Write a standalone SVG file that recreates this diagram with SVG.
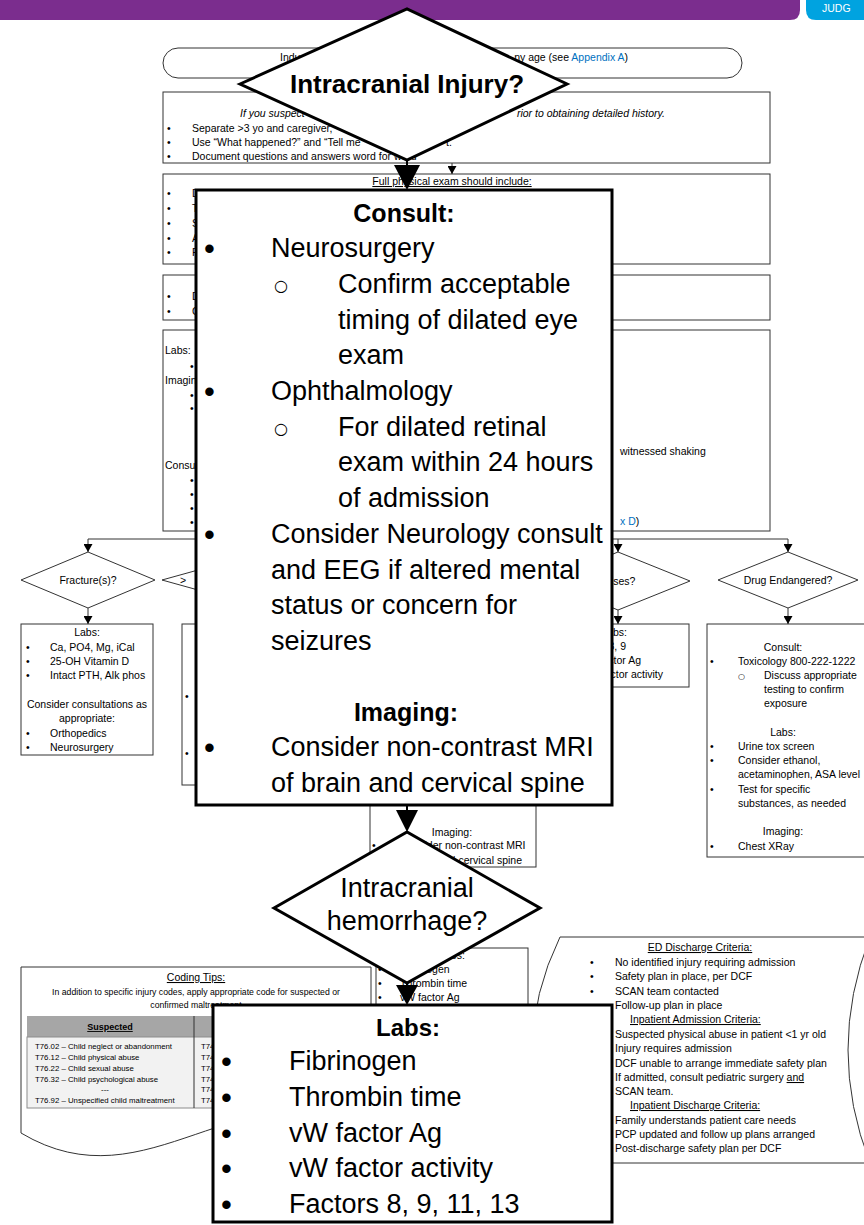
<svg xmlns="http://www.w3.org/2000/svg" width="864" height="1225" viewBox="0 0 864 1225">
<defs>
<marker id="ah" markerUnits="userSpaceOnUse" markerWidth="8" markerHeight="9" refX="8" refY="4.5" orient="auto"><path d="M0,0 L8,4.5 L0,9 z" fill="#000"/></marker>
</defs>
<style>
text{font-family:'Liberation Sans',Arial,sans-serif;fill:#000}
.s{font-size:10.5px}
.xs{font-size:8.7px}
.xxs{font-size:7.8px}
.c{text-anchor:middle}
.e{text-anchor:end}
.i{font-style:italic}
.u{text-decoration:underline}
.b{font-weight:bold}
.L{font-size:27px}
.B{font-size:31px}
.T{font-size:25px;font-weight:bold}
.sym{font-family:'DejaVu Sans',sans-serif}
.blue{fill:#0070c0}
.w{fill:#fff}
.box{fill:#fff;stroke:#333;stroke-width:1}
.ov{fill:#fff;stroke:#000;stroke-width:3}
.ln{fill:none;stroke:#333;stroke-width:1}
</style>
<rect width="864" height="1225" fill="#fff"/>

<g id="header">
<path d="M0,0 H800 V10 Q800,20 790,20 H0 Z" fill="#7b2d8e"/>
<path d="M806,0 H870 V20 H816 Q806,20 806,10 Z" fill="#00a3e0"/>
<text x="822" y="12" class="s w">JUDG</text>
</g>

<g id="start">
<rect x="163" y="48" width="579" height="30" rx="15" class="box"/>
<text x="280" y="61" class="s">Indu</text>
<text x="628" y="61" class="s e">ny age (see <tspan class="blue">Appendix A</tspan>)</text>
</g>

<g id="history">
<rect x="163" y="92" width="607" height="71" class="box"/>
<text x="240" y="117" class="s i">If you suspect</text>
<text x="665" y="117" class="s i e">rior to obtaining detailed history.</text>
<text x="167" y="132" class="s">•</text><text x="192" y="132" class="s">Separate &gt;3 yo and caregiver,</text>
<text x="167" y="146" class="s">•</text><text x="192" y="146" class="s">Use “What happened?” and “Tell me</text><text x="446" y="146" class="s">t.</text>
<text x="167" y="160" class="s">•</text><text x="192" y="160" class="s">Document questions and answers word for word</text>
</g>

<g id="exam">
<rect x="163" y="174" width="607" height="90" class="box"/>
<text x="452" y="185" class="s c u">Full physical exam should include:</text>
<text x="167" y="197" class="s">•</text><text x="192" y="197" class="s">D</text>
<text x="167" y="212" class="s">•</text><text x="192" y="212" class="s">T</text>
<text x="167" y="227" class="s">•</text><text x="192" y="227" class="s">S</text>
<text x="167" y="242" class="s">•</text><text x="192" y="242" class="s">A</text>
<text x="167" y="256" class="s">•</text><text x="192" y="256" class="s">F</text>
</g>

<g id="box4">
<rect x="163" y="275" width="607" height="45" class="box"/>
<text x="167" y="300" class="s">•</text><text x="192" y="300" class="s">D</text>
<text x="167" y="315" class="s">•</text><text x="192" y="315" class="s">C</text>
</g>

<g id="workup">
<rect x="163" y="330" width="607" height="201" class="box"/>
<text x="165" y="354" class="s">Labs:</text>
<text x="190" y="370" class="s">•</text>
<text x="165" y="384" class="s">Imaging:</text>
<text x="190" y="399" class="s">•</text>
<text x="190" y="412" class="s">•</text>
<text x="165" y="469" class="s">Consult:</text>
<text x="190" y="484" class="s">•</text>
<text x="190" y="498" class="s">•</text>
<text x="190" y="512" class="s">•</text>
<text x="190" y="526" class="s">•</text>
<text x="620" y="455" class="s">witnessed shaking</text>
<text x="620" y="525" class="s"><tspan class="blue">x D</tspan>)</text>
</g>

<g id="fracture-q">
<polygon points="21,580 88,552 155,580 88,608" class="box"/>
<text x="88" y="584" class="s c">Fracture(s)?</text>
</g>
<g id="fracture-box">
<rect x="21" y="624" width="132" height="131" class="box"/>
<text x="87" y="636" class="s c">Labs:</text>
<text x="26" y="651" class="s">•</text><text x="50" y="651" class="s">Ca, PO4, Mg, iCal</text>
<text x="26" y="665" class="s">•</text><text x="50" y="665" class="s">25-OH Vitamin D</text>
<text x="26" y="679" class="s">•</text><text x="50" y="679" class="s">Intact PTH, Alk phos</text>
<text x="87" y="708" class="s c">Consider consultations as</text>
<text x="87" y="722" class="s c">appropriate:</text>
<text x="26" y="737" class="s">•</text><text x="50" y="737" class="s">Orthopedics</text>
<text x="26" y="751" class="s">•</text><text x="50" y="751" class="s">Neurosurgery</text>
</g>

<g id="age-q">
<polygon points="162,580 263,552 364,580 263,608" class="box"/>
<text x="180" y="584" class="s">&gt;</text>
</g>
<g id="age-box">
<rect x="182" y="624" width="150" height="161" class="box"/>
<text x="185" y="700" class="s">•</text>
<text x="185" y="757" class="s">•</text>
</g>

<g id="bruise-q">
<polygon points="546,581 618,552 690,581 618,610" class="box"/>
<text x="615" y="585" class="s c">Bruises?</text>
</g>
<g id="bruise-box">
<rect x="540" y="624" width="149" height="63" class="box"/>
<text x="627" y="636" class="s e">Labs:</text>
<text x="626" y="650" class="s e">Factors 8, 9</text>
<text x="641" y="664" class="s e">vW factor Ag</text>
<text x="663" y="678" class="s e">vW factor activity</text>
</g>

<g id="drug-q">
<polygon points="718,580 788,552 858,580 788,608" class="box"/>
<text x="788" y="584" class="s c">Drug Endangered?</text>
</g>
<g id="drug-box">
<rect x="707" y="624" width="170" height="233" class="box"/>
<text x="783" y="651" class="s c">Consult:</text>
<text x="710" y="665" class="s">•</text><text x="738" y="665" class="s">Toxicology 800-222-1222</text>
<text x="738" y="679" class="sym" font-size="8">○</text><text x="764" y="679" class="s">Discuss appropriate</text>
<text x="764" y="693" class="s">testing to confirm</text>
<text x="764" y="707" class="s">exposure</text>
<text x="783" y="736" class="s c">Labs:</text>
<text x="710" y="750" class="s">•</text><text x="738" y="750" class="s">Urine tox screen</text>
<text x="710" y="764" class="s">•</text><text x="738" y="764" class="s">Consider ethanol,</text>
<text x="738" y="778" class="s">acetaminophen, ASA level</text>
<text x="710" y="793" class="s">•</text><text x="738" y="793" class="s">Test for specific</text>
<text x="738" y="807" class="s">substances, as needed</text>
<text x="783" y="835" class="s c">Imaging:</text>
<text x="710" y="850" class="s">•</text><text x="738" y="850" class="s">Chest XRay</text>
</g>

<g id="imaging-box">
<rect x="370" y="790" width="166" height="77" class="box"/>
<text x="452" y="836" class="s c">Imaging:</text>
<text x="372" y="849" class="s">•</text><text x="400" y="849" class="s">Consider non-contrast MRI</text>
<text x="400" y="864" class="s">of brain and cervical spine</text>
</g>

<g id="hem-labs-box">
<rect x="376" y="948" width="152" height="90" class="box"/>
<text x="452" y="959" class="s c">Labs:</text>
<text x="378" y="973" class="s">•</text><text x="400" y="973" class="s">Fibrinogen</text>
<text x="378" y="987" class="s">•</text><text x="400" y="987" class="s">Thrombin time</text>
<text x="378" y="1001" class="s">•</text><text x="400" y="1001" class="s">vW factor Ag</text>
</g>

<g id="coding-tips">
<path d="M21,967 H371 V1133 C240,1060 150,1210 21,1133 Z" fill="#fff" stroke="#333" stroke-width="1"/>
<text x="196" y="981" class="s c u">Coding Tips:</text>
<text x="196" y="995" class="xs c">In addition to specific injury codes, apply appropriate code for suspected or</text>
<text x="196" y="1008" class="xs c">confirmed maltreatment</text>
<rect x="27" y="1016" width="340" height="21" fill="#a6a6a6"/>
<rect x="27" y="1037" width="340" height="71" fill="#f2f2f2" stroke="#8c8c8c" stroke-width="1"/>
<line x1="194" y1="1016" x2="194" y2="1108" stroke="#333" stroke-width="1"/>
<text x="110" y="1030" class="c u b" font-size="9">Suspected</text>
<text x="35" y="1049" class="xxs">T76.02 – Child neglect or abandonment</text>
<text x="35" y="1060" class="xxs">T76.12 – Child physical abuse</text>
<text x="35" y="1071" class="xxs">T76.22 – Child sexual abuse</text>
<text x="35" y="1082" class="xxs">T76.32 – Child psychological abuse</text>
<text x="105" y="1092" class="xxs c">---</text>
<text x="35" y="1103" class="xxs">T76.92 – Unspecified child maltreatment</text>
<text x="201" y="1049" class="xxs">T74</text>
<text x="201" y="1060" class="xxs">T74</text>
<text x="201" y="1071" class="xxs">T74</text>
<text x="201" y="1082" class="xxs">T74</text>
<text x="201" y="1092" class="xxs">T74</text>
<text x="201" y="1103" class="xxs">T74</text>
</g>

<g id="criteria">
<path d="M560,937 L870,937 Q826,1050 870,1163 L560,1163 Q505,1050 560,937 Z" fill="#fff" stroke="#333" stroke-width="1"/>
<text x="700" y="951" class="s c u">ED Discharge Criteria:</text>
<text x="590" y="966" class="s">•</text><text x="615" y="966" class="s">No identified injury requiring admission</text>
<text x="590" y="980" class="s">•</text><text x="615" y="980" class="s">Safety plan in place, per DCF</text>
<text x="590" y="995" class="s">•</text><text x="615" y="995" class="s">SCAN team contacted</text>
<text x="590" y="1009" class="s">•</text><text x="615" y="1009" class="s">Follow-up plan in place</text>
<text x="630" y="1023" class="s u">Inpatient Admission Criteria:</text>
<text x="615" y="1038" class="s">Suspected physical abuse in patient &lt;1 yr old</text>
<text x="615" y="1052" class="s">Injury requires admission</text>
<text x="615" y="1067" class="s">DCF unable to arrange immediate safety plan</text>
<text x="615" y="1081" class="s">If admitted, consult pediatric surgery <tspan class="u">and</tspan></text>
<text x="615" y="1095" class="s">SCAN team.</text>
<text x="630" y="1109" class="s u">Inpatient Discharge Criteria:</text>
<text x="615" y="1124" class="s">Family understands patient care needs</text>
<text x="615" y="1138" class="s">PCP updated and follow up plans arranged</text>
<text x="615" y="1152" class="s">Post-discharge safety plan per DCF</text>
</g>

<g id="connectors">
<line x1="452" y1="163" x2="452" y2="174" class="ln" marker-end="url(#ah)"/>
<line x1="452" y1="264" x2="452" y2="275" class="ln" marker-end="url(#ah)"/>
<line x1="452" y1="320" x2="452" y2="330" class="ln" marker-end="url(#ah)"/>
<line x1="452" y1="531" x2="452" y2="539" class="ln"/>
<line x1="88" y1="539" x2="788" y2="539" class="ln"/>
<line x1="88" y1="539" x2="88" y2="552" class="ln" marker-end="url(#ah)"/>
<line x1="263" y1="539" x2="263" y2="552" class="ln" marker-end="url(#ah)"/>
<line x1="618" y1="539" x2="618" y2="552" class="ln" marker-end="url(#ah)"/>
<line x1="788" y1="539" x2="788" y2="552" class="ln" marker-end="url(#ah)"/>
<line x1="88" y1="608" x2="88" y2="624" class="ln" marker-end="url(#ah)"/>
<line x1="263" y1="608" x2="263" y2="624" class="ln" marker-end="url(#ah)"/>
<line x1="618" y1="610" x2="618" y2="624" class="ln" marker-end="url(#ah)"/>
<line x1="788" y1="608" x2="788" y2="624" class="ln" marker-end="url(#ah)"/>
<line x1="407" y1="160" x2="407" y2="166" stroke="#000" stroke-width="2"/>
<polygon points="394,165 420,165 407,190" fill="#000"/>
<line x1="407" y1="805" x2="407" y2="811" stroke="#000" stroke-width="2"/>
<polygon points="396,810 418,810 407,832" fill="#000"/>
<line x1="407" y1="983" x2="407" y2="987" stroke="#000" stroke-width="2"/>
<polygon points="396,985 418,985 407,1005" fill="#000"/>
</g>

<g id="intracranial-injury">
<polygon points="240,84 407,9 567,84 407,160" class="ov"/>
<text x="407" y="93" class="c b" font-size="26">Intracranial Injury?</text>
</g>

<g id="consult">
<rect x="196" y="190" width="416" height="615" class="ov"/>
<text x="404" y="222" class="T c">Consult:</text>
<text x="204" y="259" class="B">•</text><text x="271" y="257" class="L">Neurosurgery</text>
<text x="274" y="291" class="sym" font-size="16">○</text><text x="338" y="293" class="L">Confirm acceptable</text>
<text x="338" y="329" class="L">timing of dilated eye</text>
<text x="338" y="364" class="L">exam</text>
<text x="204" y="402" class="B">•</text><text x="271" y="400" class="L">Ophthalmology</text>
<text x="274" y="434" class="sym" font-size="16">○</text><text x="338" y="436" class="L">For dilated retinal</text>
<text x="338" y="471" class="L">exam within 24 hours</text>
<text x="338" y="507" class="L">of admission</text>
<text x="204" y="545" class="B">•</text><text x="271" y="543" class="L">Consider Neurology consult</text>
<text x="271" y="579" class="L">and EEG if altered mental</text>
<text x="271" y="614" class="L">status or concern for</text>
<text x="271" y="650" class="L">seizures</text>
<text x="406" y="721" class="T c">Imaging:</text>
<text x="204" y="758" class="B">•</text><text x="271" y="756" class="L">Consider non-contrast MRI</text>
<text x="271" y="792" class="L">of brain and cervical spine</text>
</g>

<g id="intracranial-hemorrhage">
<polygon points="274,908 407,832 540,908 407,983" class="ov"/>
<text x="407" y="897" class="L c">Intracranial</text>
<text x="407" y="930" class="L c">hemorrhage?</text>
</g>

<g id="labs">
<rect x="213" y="1005" width="399" height="217" class="ov"/>
<text x="408" y="1036" class="c b" font-size="24">Labs:</text>
<text x="221" y="1072" class="B">•</text><text x="289" y="1070" class="L">Fibrinogen</text>
<text x="221" y="1108" class="B">•</text><text x="289" y="1106" class="L">Thrombin time</text>
<text x="221" y="1144" class="B">•</text><text x="289" y="1142" class="L">vW factor Ag</text>
<text x="221" y="1179" class="B">•</text><text x="289" y="1177" class="L">vW factor activity</text>
<text x="221" y="1215" class="B">•</text><text x="289" y="1213" class="L">Factors 8, 9, 11, 13</text>
</g>
</svg>
